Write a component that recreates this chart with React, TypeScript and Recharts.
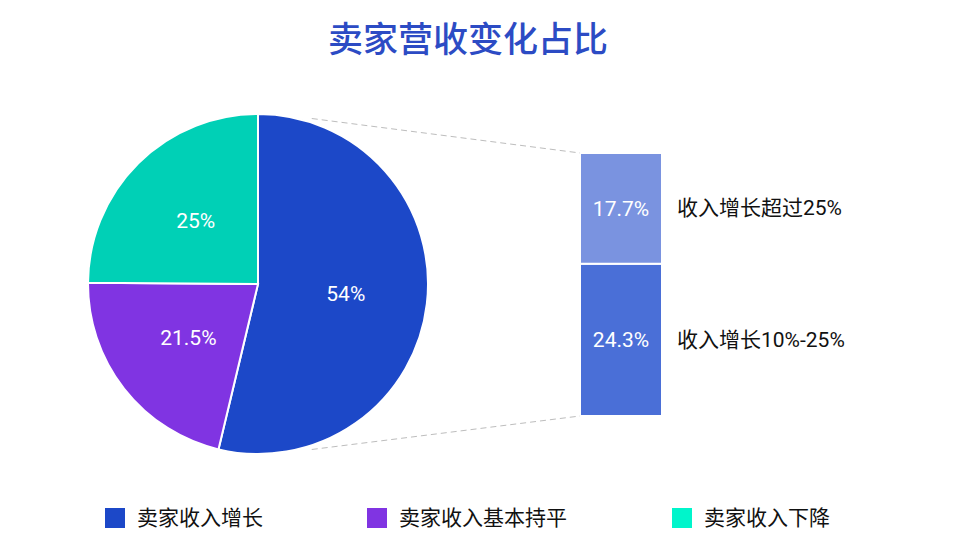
import React from 'react';
import { PieChart, Pie, Cell, BarChart, Bar, XAxis, YAxis, LabelList, Customized } from 'recharts';

const FONT = 'Roboto, "Noto Sans CJK SC", "Noto Sans", sans-serif';

const title = '卖家营收变化占比';
const pieCategories = ['卖家收入增长', '卖家收入基本持平', '卖家收入下降'];
const pieValues = [54, 21.5, 25];
const pieColors = ['#1c48c8', '#8034e2', '#00d0b6'];
const legendColors = ['#1c48c8', '#8034e2', '#00f5cb'];

const subCategories = ['收入增长10%-25%', '收入增长超过25%'];
const subValues = [24.3, 17.7];
const subColors = ['#4a6fd7', '#7a93e0'];

const pieData = pieCategories.map((name, i) => ({ name, value: pieValues[i] }));
const barRow: Record<string, any> = { name: pieCategories[0] };
subValues.forEach((v, i) => { barRow['s' + i] = v; });
const barData = [barRow];

const PIE_CX = 258;
const PIE_CY = 284;
const PIE_R = 170;
const BAR_LEFT = 580;
const BAR_TOP = 153;
const BAR_W = 82;
const BAR_H = 263;
const RAD = Math.PI / 180;

const renderPieLabel = (p: any) => {
  const r = p.outerRadius * 0.52;
  const x = p.cx + r * Math.cos(-p.midAngle * RAD);
  const y = p.cy + r * Math.sin(-p.midAngle * RAD);
  return (
    <text x={x} y={y} fill="#fff" fontSize={21} fontFamily={FONT} textAnchor="middle" dominantBaseline="central">
      {`${p.value}%`}
    </text>
  );
};

const Decor = () => {
  const a1 = 72 * RAD;
  const rr = PIE_R + 4;
  const x1 = PIE_CX + rr * Math.cos(a1);
  const yTop = PIE_CY - rr * Math.sin(a1);
  const yBot = PIE_CY + rr * Math.sin(a1);
  return (
    <g>
      <text x={468} y={40} textAnchor="middle" dominantBaseline="central" fill="#2c4bc4" fontSize={35} fontFamily={FONT} fontWeight={500}>
        {title}
      </text>
      <line x1={x1} y1={yTop} x2={BAR_LEFT} y2={BAR_TOP} stroke="#bdbdbd" strokeWidth={1} strokeDasharray="6 4" />
      <line x1={x1} y1={yBot} x2={BAR_LEFT} y2={BAR_TOP + BAR_H} stroke="#bdbdbd" strokeWidth={1} strokeDasharray="6 4" />
    </g>
  );
};

const makeSideLabel = (text: string) => (p: any) => {
  const x = Number(p.x) + Number(p.width) + 15;
  const y = Number(p.y) + Number(p.height) / 2;
  return (
    <text x={x} y={y} fill="#111" fontSize={21} fontFamily={FONT} dominantBaseline="central">
      {text}
    </text>
  );
};

const legendX = [105, 367, 672];

export default function App() {
  return (
    <div style={{ position: 'absolute', left: 0, top: 0, width: 956, height: 554, background: '#fff', fontFamily: FONT }}>
      <div style={{ position: 'absolute', left: 0, top: 0 }}>
        <PieChart width={956} height={554} margin={{ top: 0, right: 0, bottom: 0, left: 0 }}>
          <Customized component={Decor} />
          <Pie
            data={pieData}
            dataKey="value"
            nameKey="name"
            cx={PIE_CX}
            cy={PIE_CY}
            outerRadius={PIE_R}
            startAngle={90}
            endAngle={-270}
            stroke="#fff"
            strokeWidth={2}
            label={renderPieLabel}
            labelLine={false}
            isAnimationActive={false}
          >
            {pieData.map((d, i) => (
              <Cell key={d.name} fill={pieColors[i]} />
            ))}
          </Pie>
        </PieChart>
      </div>
      <div style={{ position: 'absolute', left: BAR_LEFT, top: BAR_TOP }}>
        <BarChart width={BAR_W + 220} height={BAR_H} data={barData} margin={{ top: 0, right: 220, bottom: 0, left: 0 }} barCategoryGap={0}>
          <XAxis dataKey="name" hide />
          <YAxis hide domain={[0, 42]} />
          {subValues.map((v, i) => (
            <Bar key={i} dataKey={'s' + i} stackId="a" fill={subColors[i]} stroke="#fff" strokeWidth={2} isAnimationActive={false}>
              <LabelList dataKey={'s' + i} position="center" fill="#fff" fontSize={21} fontFamily={FONT} formatter={(val: any) => `${val}%`} />
              <LabelList dataKey={'s' + i} content={makeSideLabel(subCategories[i])} />
            </Bar>
          ))}
        </BarChart>
      </div>
      {pieCategories.map((name, i) => (
        <div key={name} style={{ position: 'absolute', left: legendX[i], top: 508, height: 20, display: 'flex', alignItems: 'center' }}>
          <div style={{ width: 20, height: 20, background: legendColors[i] }} />
          <span style={{ marginLeft: 12, fontSize: 21, color: '#111', whiteSpace: 'nowrap', lineHeight: '20px' }}>{name}</span>
        </div>
      ))}
    </div>
  );
}
